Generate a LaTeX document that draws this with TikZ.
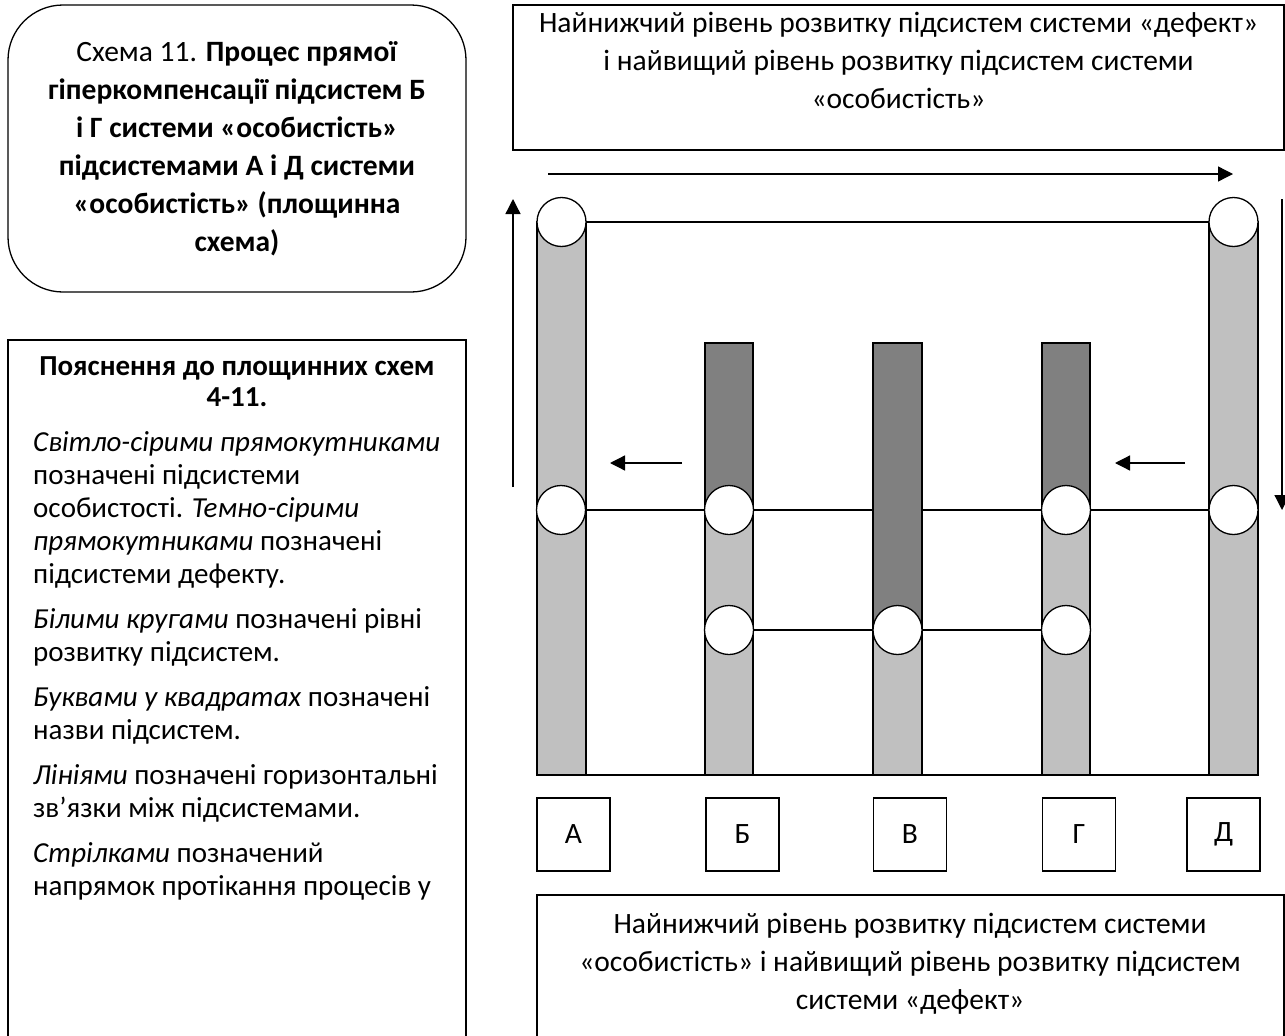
\documentclass[tikz,border=0pt]{standalone}
\usepackage{fontspec}
\setmainfont{Carlito}
\usetikzlibrary{arrows.meta,backgrounds}
\definecolor{palegray}{HTML}{C0C0C0}
\definecolor{deepgray}{HTML}{808080}
\tikzset{
  frame/.style={draw, line width=1.3pt},
  pale/.style={fill=palegray, draw=black, line width=1.3pt},
  deep/.style={fill=deepgray, draw=black, line width=1.3pt},
  lvl/.style={circle, draw, fill=white, minimum size=49pt, inner sep=0pt, line width=1.3pt},
  link/.style={line width=1.3pt},
  flow/.style={-{Triangle[length=15pt,width=15pt]}, line width=1.3pt},
  letterbox/.style={draw, minimum width=73pt, minimum height=73pt, inner sep=0pt, line width=1.3pt, font=\fontsize{29.5}{34}\selectfont},
  txt/.style={align=center, inner sep=0pt, font=\fontsize{29.5}{38}\selectfont},
}
\begin{document}
\begin{tikzpicture}[x=1pt,y=-1pt]
\useasboundingbox (0,0) rectangle (1285,1036);
\clip (0,0) rectangle (1285,1036);

% title box
\node[frame, rounded corners=55pt, minimum width=458pt, minimum height=287pt, inner sep=0pt] (titlebox) at (237,148.5) {};
\node[txt] (titletext) at (237,149) {Схема 11. \textbf{Процес прямої}\\ \textbf{гіперкомпенсації підсистем Б}\\ \textbf{і Г системи «особистість»}\\ \textbf{підсистемами А і Д системи}\\ \textbf{«особистість» (площинна}\\ \textbf{схема)}};

% legend box
\draw[frame] (8,1060) -- (8,340) -- (466,340) -- (466,1060);
\node[txt, font=\fontsize{29}{31}\selectfont\bfseries, anchor=north] (legtitle) at (237,356) {Пояснення до площинних схем\\ 4-11.};
\node[align=left, inner sep=0pt, font=\fontsize{29}{33}\selectfont, anchor=north west] (legbody) at (33,431) {\textit{Світло-сірими прямокутниками}\\ позначені підсистеми\\ особистості. \textit{Темно-сірими}\\ \textit{прямокутниками} позначені\\ підсистеми дефекту.\\[12pt]
\textit{Білими кругами} позначені рівні\\ розвитку підсистем.\\[12pt]
\textit{Буквами у квадратах} позначені\\ назви підсистем.\\[12pt]
\textit{Лініями} позначені горизонтальні\\ зв’язки між підсистемами.\\[12pt]
\textit{Стрілками} позначений\\ напрямок протікання процесів у};

% top right box
\node[frame, minimum width=771pt, minimum height=145pt, inner sep=0pt] (topbox) at (898.5,77.5) {};
\node[txt, anchor=north] (toptext) at (898.5,12) {Найнижчий рівень розвитку підсистем системи «дефект»\\ і найвищий рівень розвитку підсистем системи\\ «особистість»};

% bottom box
\draw[frame] (537,1060) -- (537,895) -- (1284,895) -- (1284,1060);
\node[txt, anchor=north] (bottext) at (910,913) {Найнижчий рівень розвитку підсистем системи\\ «особистість» і найвищий рівень розвитку підсистем\\ системи «дефект»};

% columns
\path[pale] (537,222) rectangle (586,775);
\path[deep] (705,343) rectangle (753,510);
\path[pale] (705,510) rectangle (753,775);
\path[deep] (873,343) rectangle (922,630);
\path[pale] (873,630) rectangle (922,775);
\path[deep] (1042,343) rectangle (1090,510);
\path[pale] (1042,510) rectangle (1090,775);
\path[pale] (1209,222) rectangle (1258,775);
\draw[line width=2pt] (537,775) -- (1258,775);

% level circles
\node[lvl] (a1) at (561.5,222) {};
\node[lvl] (a2) at (561,510) {};
\node[lvl] (b2) at (729,510) {};
\node[lvl] (g2) at (1066,510) {};
\node[lvl] (d1) at (1233.5,222) {};
\node[lvl] (d2) at (1233.5,510) {};
\node[lvl] (b3) at (729,630) {};
\node[lvl] (v3) at (897.5,630) {};
\node[lvl] (g3) at (1066,630) {};

\begin{scope}[on background layer]
\draw[link] (a1) -- (d1);
\draw[link] (a2) -- (b2);
\draw[link] (b2) -- (g2);
\draw[link] (g2) -- (d2);
\draw[link] (b3) -- (v3);
\draw[link] (v3) -- (g3);
\end{scope}

% letters
\node[letterbox] (la) at (573.5,834.5) {А};
\node[letterbox] (lb) at (742.5,834.5) {Б};
\node[letterbox] (lv) at (910,834.5) {В};
\node[letterbox] (lg) at (1079,834.5) {Г};
\node[letterbox] (ld) at (1223.5,834.5) {Д};

% arrows
\coordinate (tops) at (548,174);
\coordinate (tope) at (1233,174);
\coordinate (ups) at (513,487);
\coordinate (upe) at (513,199);
\coordinate (dns) at (1282,199);
\coordinate (dne) at (1282,510);
\coordinate (l1s) at (682,463);
\coordinate (l1e) at (610,463);
\coordinate (l2s) at (1185,463);
\coordinate (l2e) at (1115,463);
\draw[flow] (tops) -- (tope);
\draw[flow] (ups) -- (upe);
\draw[flow] (dns) -- (dne);
\draw[flow] (l1s) -- (l1e);
\draw[flow] (l2s) -- (l2e);
\end{tikzpicture}
\end{document}
